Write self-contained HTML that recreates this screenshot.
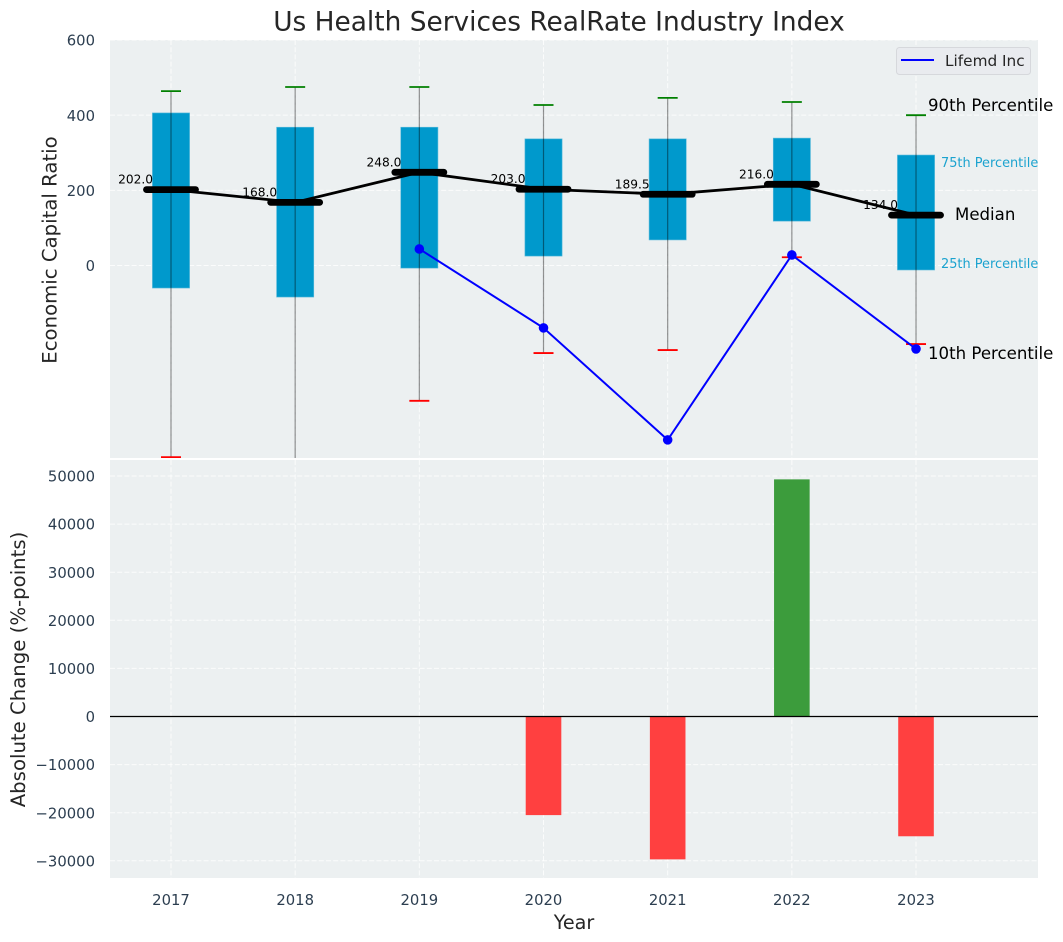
<!DOCTYPE html>
<html lang="en">
<head>
<meta charset="utf-8">
<title>Us Health Services RealRate Industry Index</title>
<style>
html,body{margin:0;padding:0;background:#fff;}
svg{display:block;font-family:"DejaVu Sans","Liberation Sans",sans-serif;}
</style>
</head>
<body>
<svg id="chart" width="1063" height="942" viewBox="0 0 1063 942" xmlns="http://www.w3.org/2000/svg">
  <defs>
    <clipPath id="clip-top"><rect x="110" y="40" width="928" height="418"></rect></clipPath>
    <clipPath id="clip-bottom"><rect x="110" y="460" width="928" height="418"></rect></clipPath>
  </defs>
  <text x="559" y="30.5" text-anchor="middle" font-size="26.4" fill="#262626">Us Health Services RealRate Industry Index</text>
  <rect x="110" y="40" width="928" height="418" fill="#ecf0f1"></rect>
  <rect x="110" y="460" width="928" height="418" fill="#ecf0f1"></rect>
  <g id="grid-layer"></g>
  <g id="top-layer" clip-path="url(#clip-top)"></g>
  <g id="bottom-layer" clip-path="url(#clip-bottom)"></g>
  <g id="label-layer"></g>
  <text transform="translate(56.5,250) rotate(-90)" text-anchor="middle" font-size="19.7" fill="#262626">Economic Capital Ratio</text>
  <text transform="translate(25,669.5) rotate(-90)" text-anchor="middle" font-size="19.7" fill="#262626">Absolute Change (%-points)</text>
  <text x="574" y="929" text-anchor="middle" font-size="19.2" fill="#262626">Year</text>
  <g>
    <rect x="896.5" y="47.5" width="134" height="27" rx="3" fill="#e9ebef" stroke="#d6d8dc"></rect>
    <line x1="901" y1="60" x2="934" y2="60" stroke="#0000ff" stroke-width="2"></line>
    <text x="945" y="66" font-size="15.3" fill="#262626">Lifemd Inc</text>
  </g>
  <text x="928" y="111" font-size="16.6" fill="#000">90th Percentile</text>
  <text x="941" y="167" font-size="12.9" fill="#1ca3cf">75th Percentile</text>
  <text x="955" y="220" font-size="16.6" fill="#000">Median</text>
  <text x="941" y="268" font-size="12.9" fill="#1ca3cf">25th Percentile</text>
  <text x="928" y="359" font-size="16.6" fill="#000">10th Percentile</text>
</svg>
<script>
const years = [2017, 2018, 2019, 2020, 2021, 2022, 2023];
const p90 = [464, 475, 475, 427, 446, 435, 400];
const p75 = [406, 368, 368, 337, 337, 339, 294];
const medians = [202, 168, 248, 203, 189.5, 216, 134];
const p25 = [-60, -84, -7, 25, 68, 118, -12];
const p10 = [-510, -600, -360, -233, -225, 22, -209];
const lifemdYears = [2019, 2020, 2021, 2022, 2023];
const lifemdValues = [44, -166, -464, 28, -222];
const changeYears = [2020, 2021, 2022, 2023];
const changeValues = [-20500, -29700, 49300, -24900];
const topTicks = [0, 200, 400, 600];
const bottomTicks = [-30000, -20000, -10000, 0, 10000, 20000, 30000, 40000, 50000];

const NS = 'http://www.w3.org/2000/svg';
const gridLayer = document.getElementById('grid-layer');
const topLayer = document.getElementById('top-layer');
const bottomLayer = document.getElementById('bottom-layer');
const labelLayer = document.getElementById('label-layer');

function xPos(year) { return 171 + (year - 2017) * 124.17; }
function yTop(v) { return 265.5 - v * 0.3758; }
function yBottom(v) { return 716.5 - v * 0.00481; }

function mk(parent, tag, attrs, content) {
  const node = document.createElementNS(NS, tag);
  for (const k in attrs) node.setAttribute(k, attrs[k]);
  if (content !== undefined) node.textContent = content;
  parent.appendChild(node);
  return node;
}
function tickText(v) { return String(v).replace('-', '\u2212'); }
const gridStyle = { stroke: '#ffffff', 'stroke-width': 1, 'stroke-dasharray': '5 2.2', 'stroke-opacity': 0.8 };

years.forEach(function (yr) {
  const x = xPos(yr);
  const g1 = mk(gridLayer, 'line', Object.assign({ x1: x, x2: x, y1: 40, y2: 458 }, gridStyle));
  
  
  const g2 = mk(gridLayer, 'line', Object.assign({ x1: x, x2: x, y1: 460, y2: 878 }, gridStyle));
  
  
  const t = mk(labelLayer, 'text', { x: x, y: 905, 'text-anchor': 'middle', 'font-size': 14.8, fill: '#2c3e50' }, String(yr));
  
  
});
topTicks.forEach(function (v) {
  const y = yTop(v);
  const g = mk(gridLayer, 'line', Object.assign({ x1: 110, x2: 1038, y1: y, y2: y }, gridStyle));
  
  
  const t = mk(labelLayer, 'text', { x: 95, y: y + 5.6, 'text-anchor': 'end', 'font-size': 14.8, fill: '#2c3e50' }, tickText(v));
  
  
});
bottomTicks.forEach(function (v) {
  const y = yBottom(v);
  const g = mk(gridLayer, 'line', Object.assign({ x1: 110, x2: 1038, y1: y, y2: y }, gridStyle));
  
  
  const t = mk(labelLayer, 'text', { x: 95, y: y + 5.6, 'text-anchor': 'end', 'font-size': 14.8, fill: '#2c3e50' }, tickText(v));
  
  
});

years.forEach(function (yr, i) {
  const x = xPos(yr);
  const box = mk(topLayer, 'rect', { x: x - 18.6, y: yTop(p75[i]), width: 37.2, height: yTop(p25[i]) - yTop(p75[i]), fill: '#0099cc', stroke: '#5fbcdc', 'stroke-width': 0.6 });
  
  
  const whisker = mk(topLayer, 'line', { x1: x, x2: x, y1: yTop(p90[i]), y2: yTop(p10[i]), stroke: '#000', 'stroke-width': 1.2, 'stroke-opacity': 0.42 });
  
  
  const capHigh = mk(topLayer, 'line', { x1: x - 10, x2: x + 10, y1: yTop(p90[i]), y2: yTop(p90[i]), stroke: '#008000', 'stroke-width': 1.8 });
  
  
  const capLow = mk(topLayer, 'line', { x1: x - 10, x2: x + 10, y1: yTop(p10[i]), y2: yTop(p10[i]), stroke: '#ff0000', 'stroke-width': 1.8 });
  
  
});

const medianPath = mk(topLayer, 'polyline', { points: years.map(function (yr, i) { return xPos(yr) + ',' + yTop(medians[i]); }).join(' '), fill: 'none', stroke: '#000', 'stroke-width': 2.8 });



years.forEach(function (yr, i) {
  const x = xPos(yr);
  const y = yTop(medians[i]);
  const tick = mk(topLayer, 'line', { x1: x - 24.5, x2: x + 24.5, y1: y, y2: y, stroke: '#000', 'stroke-width': 6.8, 'stroke-linecap': 'round' });
  
  
  const label = mk(labelLayer, 'text', { x: x - 18, y: y - 6, 'text-anchor': 'end', 'font-size': 12.2, fill: '#000' }, medians[i].toFixed(1));
  
  
});

const lifemdLine = mk(topLayer, 'polyline', { points: lifemdYears.map(function (yr, i) { return xPos(yr) + ',' + yTop(lifemdValues[i]); }).join(' '), fill: 'none', stroke: '#0000ff', 'stroke-width': 2 });


lifemdYears.forEach(function (yr, i) {
  const dot = mk(topLayer, 'circle', { cx: xPos(yr), cy: yTop(lifemdValues[i]), r: 4.8, fill: '#0000ff' });
  
  
});

changeYears.forEach(function (yr, i) {
  const v = changeValues[i];
  const y0 = yBottom(0);
  const y1 = yBottom(v);
  const bar = mk(bottomLayer, 'rect', { x: xPos(yr) - 17.8, y: Math.min(y0, y1), width: 35.6, height: Math.abs(y1 - y0), fill: v >= 0 ? '#3c9c3c' : '#ff4040' });
  
  
});
const zeroLine = mk(bottomLayer, 'line', { x1: 110, x2: 1038, y1: yBottom(0), y2: yBottom(0), stroke: '#000', 'stroke-width': 1.2 });


</script>
</body>
</html>
